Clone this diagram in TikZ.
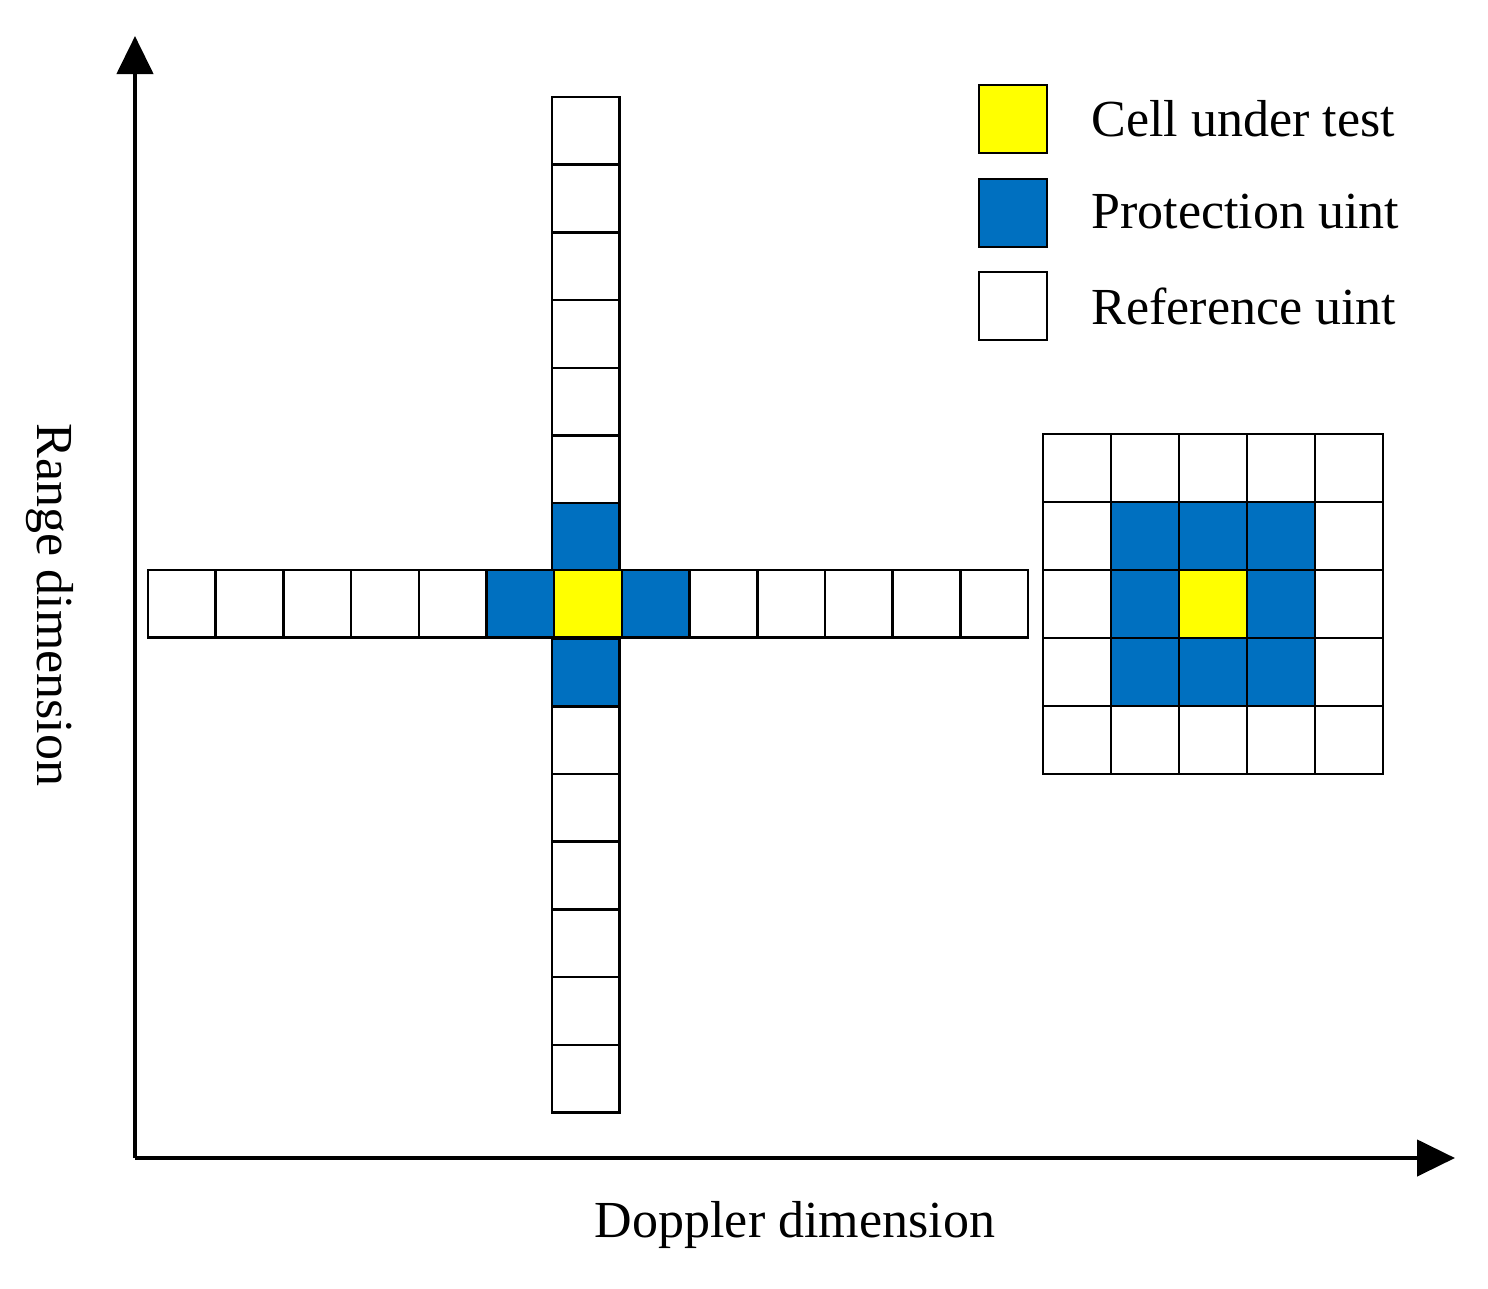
\documentclass[tikz,border=0pt]{standalone}
\usepackage{fontspec}
\setmainfont{Liberation Serif}
\usetikzlibrary{arrows.meta}
\definecolor{cblue}{HTML}{0070C0}
\definecolor{cyel}{HTML}{FFFF00}
\begin{document}
\begin{tikzpicture}[x=1pt,y=-1pt,
  cell/.style={draw=black,line width=2.5pt,fill=white},
  lbl/.style={font=\fontsize{52}{60}\selectfont},
  ax/.style={line width=4.5pt,-{Triangle[length=38pt,width=36pt]}}]
\useasboundingbox (0,0) rectangle (1488,1288);
\def\s{67.7}
% vertical column
\foreach \i in {0,...,14}{
  \pgfmathsetmacro\yy{97+\i*\s}
  \ifnum\i=6 \def\c{cblue}\else\ifnum\i=8 \def\c{cblue}\else\ifnum\i=7 \def\c{cyel}\else\def\c{white}\fi\fi\fi
  \draw[cell,fill=\c] (552,\yy) rectangle ++(\s,\s);
}
% horizontal row
\foreach \i in {0,...,12}{
  \pgfmathsetmacro\xx{148+\i*\s}
  \ifnum\i=5 \def\c{cblue}\else\ifnum\i=7 \def\c{cblue}\else\ifnum\i=6 \def\c{cyel}\else\def\c{white}\fi\fi\fi
  \draw[cell,fill=\c] (\xx,570) rectangle ++(\s,\s);
}
% right grid
\foreach \i in {0,...,4}{\foreach \j in {0,...,4}{
  \pgfmathsetmacro\xx{1043+\i*68}
  \pgfmathsetmacro\yy{434+\j*68}
  \def\c{white}
  \ifnum\i>0 \ifnum\i<4 \ifnum\j>0 \ifnum\j<4 \def\c{cblue}\fi\fi\fi\fi
  \ifnum\i=2 \ifnum\j=2 \def\c{cyel}\fi\fi
  \draw[cell,fill=\c] (\xx,\yy) rectangle ++(68,68);
}}
% legend
\draw[cell,fill=cyel] (979,85) rectangle (1047,153);
\draw[cell,fill=cblue] (979,179) rectangle (1047,247);
\draw[cell] (979,272) rectangle (1047,340);
\node[lbl,anchor=west] (l1) at (1088,119) {Cell under test};
\node[lbl,anchor=west] (l2) at (1088,212) {Protection uint};
\node[lbl,anchor=west] (l3) at (1088,306) {Reference uint};
% axes
\coordinate (o) at (135,1158);
\coordinate (yt) at (135,36);
\coordinate (xt) at (1455,1158);
\draw[ax] (o) -- (yt);
\draw[ax] (o) -- (xt);
\node[lbl,rotate=-90] (ry) at (50,605) {Range dimension};
\node[lbl] (dx) at (795,1225) {Doppler dimension};
\end{tikzpicture}
\end{document}
